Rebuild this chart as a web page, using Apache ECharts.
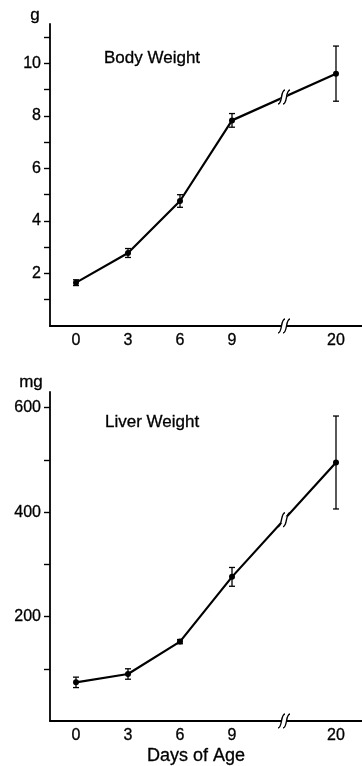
<!DOCTYPE html>
<html>
<head>
<meta charset="utf-8">
<script src="https://cdn.jsdelivr.net/npm/echarts@6/dist/echarts.min.js"></script>
<style>
  html, body { margin: 0; padding: 0; background: #fff; }
  #chart { width: 362px; height: 766px; }
</style>
</head>
<body>
<div id="chart"></div>
<script>
// days of age; the blank slot is where the axis is broken (9 -> 20)
const days = ["0", "3", "6", "9", "", "20"];
const breakSlot = 4;

const bodyMean = [1.65, 2.78, 4.76, 7.83, null, 9.61];
const bodySem = [0.11, 0.17, 0.24, 0.26, null, 1.05];
const bodyTicks = [1, 2, 3, 4, 5, 6, 7, 8, 9, 10, 11];
const bodyLabels = [2, 4, 6, 8, 10];

const liverMean = [74, 90, 152, 276, null, 495];
const liverSem = [10, 10, 4, 18, null, 89];
const liverTicks = [100, 200, 300, 400, 500, 600];
const liverLabels = [200, 400, 600];

const ink = "#000";
const font = '"Liberation Sans", Arial, sans-serif';

function errData(mean, sem) {
  return mean
    .map((m, i) => (m == null ? null : [i, m - sem[i], m + sem[i]]))
    .filter(Boolean);
}

function renderErr(params, api) {
  const x = api.value(0);
  const lo = api.coord([x, api.value(1)]);
  const hi = api.coord([x, api.value(2)]);
  const w = 3;
  const style = { stroke: ink, lineWidth: 1.3 };
  return {
    type: "group",
    children: [
      { type: "line", shape: { x1: lo[0], y1: lo[1], x2: hi[0], y2: hi[1] }, style },
      { type: "line", shape: { x1: lo[0] - w, y1: lo[1], x2: lo[0] + w, y2: lo[1] }, style },
      { type: "line", shape: { x1: hi[0] - w, y1: hi[1], x2: hi[0] + w, y2: hi[1] }, style },
    ],
  };
}

// the "//" break symbol
function slashes(cx, cy, h, s, gap) {
  const kids = [
    {
      type: "polygon",
      shape: {
        points: [
          [cx - gap / 2 - s * 0.5, cy + h / 4],
          [cx + gap / 2 - s * 0.5, cy + h / 4],
          [cx + gap / 2 + s * 0.5, cy - h / 4],
          [cx - gap / 2 + s * 0.5, cy - h / 4],
        ],
      },
      style: { fill: "#fff" },
    },
  ];
  [-gap / 2, gap / 2].forEach((off) => {
    const x0 = cx + off - s, y0 = cy + h / 2;
    const x3 = cx + off + s, y3 = cy - h / 2;
    kids.push({
      type: "bezierCurve",
      shape: { x1: x0, y1: y0, x2: x3, y2: y3, cpx1: x0 + s * 1.3, cpy1: y0, cpx2: x3 - s * 1.3, cpy2: y3 },
      style: { stroke: ink, lineWidth: 1.4, fill: null },
    });
  });
  return { type: "group", children: kids };
}

// break on the curve: halfway between the points either side of the gap
function renderLineBreak(params, api) {
  const a = api.coord([api.value(0), api.value(1)]);
  const b = api.coord([api.value(2), api.value(3)]);
  return slashes((a[0] + b[0]) / 2, (a[1] + b[1]) / 2, 14, 3.5, 5);
}

function renderAxisBreak(params, api) {
  const p = api.coord([api.value(0), api.value(1)]);
  return slashes(p[0], p[1], 14, 3.5, 5);
}

function xAxis(grid) {
  return {
    type: "category",
    gridIndex: grid,
    data: days,
    boundaryGap: true,
    axisLine: { lineStyle: { color: ink, width: 1.8 } },
    axisTick: {
      alignWithLabel: true,
      length: 4,
      interval: (i) => i !== breakSlot,
      lineStyle: { color: ink, width: 1.4 },
    },
    axisLabel: {
      color: ink, fontSize: 16, fontFamily: font, margin: 7,
      textBorderColor: ink, textBorderWidth: 0.3,
    },
    splitLine: { show: false },
  };
}

function yAxis(grid, max, ticks, labels) {
  return {
    type: "value",
    gridIndex: grid,
    min: 0,
    max: max,
    axisLine: { show: true, lineStyle: { color: ink, width: 1.8 } },
    axisTick: { show: true, length: 6, customValues: ticks, lineStyle: { color: ink, width: 1.4 } },
    axisLabel: {
      customValues: labels, color: ink, fontSize: 16, fontFamily: font, margin: 9,
      textBorderColor: ink, textBorderWidth: 0.3,
    },
    splitLine: { show: false },
  };
}

function panel(grid, mean, sem) {
  return [
    {
      type: "line",
      xAxisIndex: grid,
      yAxisIndex: grid,
      data: mean,
      connectNulls: true,
      symbol: "circle",
      symbolSize: 6,
      itemStyle: { color: ink },
      lineStyle: { color: ink, width: 2.2 },
      z: 2,
    },
    {
      type: "custom",
      xAxisIndex: grid,
      yAxisIndex: grid,
      data: errData(mean, sem),
      renderItem: renderErr,
      z: 3,
    },
    {
      type: "custom",
      xAxisIndex: grid,
      yAxisIndex: grid,
      data: [[breakSlot - 1, mean[breakSlot - 1], breakSlot + 1, mean[breakSlot + 1]]],
      renderItem: renderLineBreak,
      z: 4,
    },
    {
      type: "custom",
      xAxisIndex: grid,
      yAxisIndex: grid,
      data: [[breakSlot, 0]],
      renderItem: renderAxisBreak,
      clip: false,
      z: 4,
    },
  ];
}

function label(text, x, y, size, align) {
  return {
    type: "text",
    x: x,
    y: y,
    style: {
      text: text, fill: ink, font: size + "px " + font,
      align: align || "left", verticalAlign: "middle",
      stroke: ink, lineWidth: 0.3,
    },
  };
}

const chart = echarts.init(document.getElementById("chart"), null, { renderer: "canvas" });
chart.setOption({
  animation: false,
  backgroundColor: "#fff",
  grid: [
    { left: 50, top: 24, width: 312, height: 302 },
    { left: 50, top: 392, width: 312, height: 329 },
  ],
  xAxis: [xAxis(0), xAxis(1)],
  yAxis: [yAxis(0, 11.5, bodyTicks, bodyLabels), yAxis(1, 630, liverTicks, liverLabels)],
  series: [...panel(0, bodyMean, bodySem), ...panel(1, liverMean, liverSem)],
  graphic: [
    label("g", 35, 15, 17, "center"),
    label("Body Weight", 104, 58, 17),
    label("mg", 31, 382, 17, "center"),
    label("Liver Weight", 105, 422, 17),
    label("Days of Age", 196, 756, 18, "center"),
  ],
});
</script>
</body>
</html>
